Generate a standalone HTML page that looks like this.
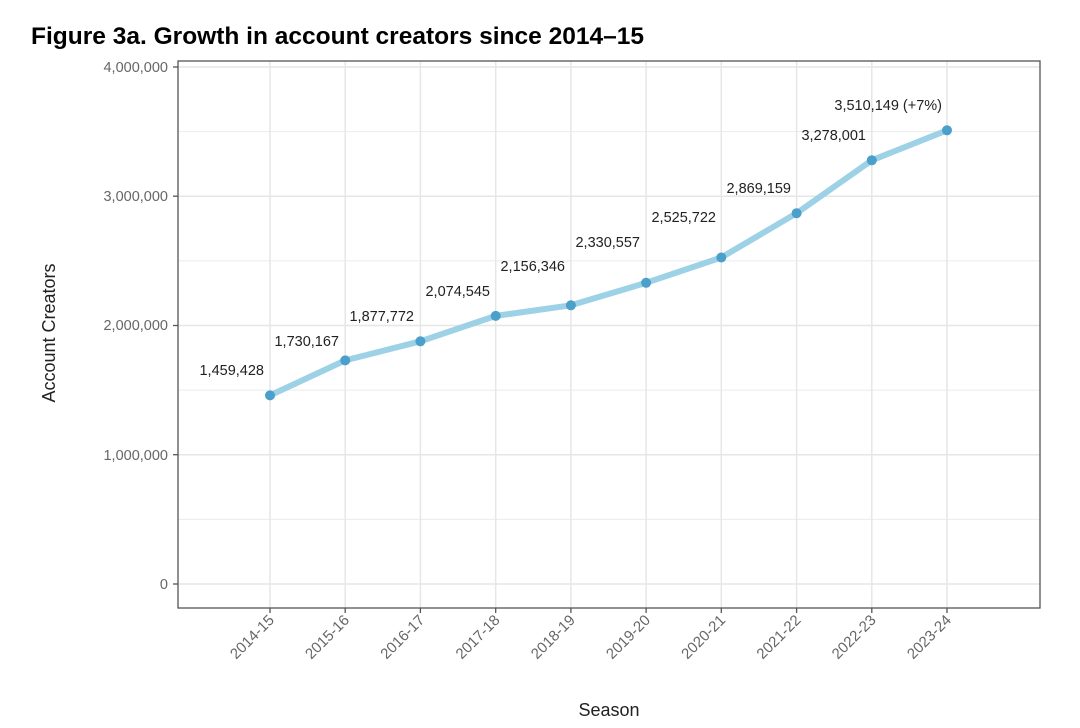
<!DOCTYPE html>
<html><head><meta charset="utf-8"><style>
body{margin:0;background:#fff;}
svg{display:block;}
</style></head><body>
<svg width="1080" height="728" xmlns="http://www.w3.org/2000/svg" font-family="Liberation Sans, sans-serif">
<text x="31" y="44" font-size="24" font-weight="bold" fill="#000" textLength="613" lengthAdjust="spacingAndGlyphs">Figure 3a. Growth in account creators since 2014–15</text>
<g stroke="#ebebeb" stroke-width="1">
<line x1="178" x2="1040" y1="131.6" y2="131.6"/><line x1="178" x2="1040" y1="260.9" y2="260.9"/>
<line x1="178" x2="1040" y1="390.1" y2="390.1"/><line x1="178" x2="1040" y1="519.4" y2="519.4"/>
</g>
<g stroke="#e6e6e6" stroke-width="1.5">
<line x1="178" x2="1040" y1="67" y2="67"/><line x1="178" x2="1040" y1="196.2" y2="196.2"/>
<line x1="178" x2="1040" y1="325.5" y2="325.5"/><line x1="178" x2="1040" y1="454.7" y2="454.7"/>
<line x1="178" x2="1040" y1="584" y2="584"/>
<line x1="270" x2="270" y1="61" y2="608"/><line x1="345.2" x2="345.2" y1="61" y2="608"/>
<line x1="420.4" x2="420.4" y1="61" y2="608"/><line x1="495.7" x2="495.7" y1="61" y2="608"/>
<line x1="570.9" x2="570.9" y1="61" y2="608"/><line x1="646.1" x2="646.1" y1="61" y2="608"/>
<line x1="721.3" x2="721.3" y1="61" y2="608"/><line x1="796.6" x2="796.6" y1="61" y2="608"/>
<line x1="871.8" x2="871.8" y1="61" y2="608"/><line x1="947" x2="947" y1="61" y2="608"/>
</g>
<rect x="178" y="61" width="862" height="547" fill="none" stroke="#555" stroke-width="1.3"/>
<g stroke="#555" stroke-width="1.3">
<line x1="173" x2="178" y1="67" y2="67"/><line x1="173" x2="178" y1="196.2" y2="196.2"/>
<line x1="173" x2="178" y1="325.5" y2="325.5"/><line x1="173" x2="178" y1="454.7" y2="454.7"/>
<line x1="173" x2="178" y1="584" y2="584"/>
</g>
<g font-size="14.5" fill="#666" text-anchor="end">
<text x="168" y="72">4,000,000</text><text x="168" y="201">3,000,000</text>
<text x="168" y="330">2,000,000</text><text x="168" y="460">1,000,000</text>
<text x="168" y="589">0</text>
</g>
<g font-size="15" fill="#666" text-anchor="end">
<g transform="translate(275,621) rotate(-45)"><text>2014-15</text></g>
<g transform="translate(350.2,621) rotate(-45)"><text>2015-16</text></g>
<g transform="translate(425.4,621) rotate(-45)"><text>2016-17</text></g>
<g transform="translate(500.7,621) rotate(-45)"><text>2017-18</text></g>
<g transform="translate(575.9,621) rotate(-45)"><text>2018-19</text></g>
<g transform="translate(651.1,621) rotate(-45)"><text>2019-20</text></g>
<g transform="translate(726.3,621) rotate(-45)"><text>2020-21</text></g>
<g transform="translate(801.6,621) rotate(-45)"><text>2021-22</text></g>
<g transform="translate(876.8,621) rotate(-45)"><text>2022-23</text></g>
<g transform="translate(952,621) rotate(-45)"><text>2023-24</text></g>
</g>
<g stroke="#555" stroke-width="1.3">
<line x1="270" x2="270" y1="608" y2="613"/><line x1="345.2" x2="345.2" y1="608" y2="613"/>
<line x1="420.4" x2="420.4" y1="608" y2="613"/><line x1="495.7" x2="495.7" y1="608" y2="613"/>
<line x1="570.9" x2="570.9" y1="608" y2="613"/><line x1="646.1" x2="646.1" y1="608" y2="613"/>
<line x1="721.3" x2="721.3" y1="608" y2="613"/><line x1="796.6" x2="796.6" y1="608" y2="613"/>
<line x1="871.8" x2="871.8" y1="608" y2="613"/><line x1="947" x2="947" y1="608" y2="613"/>
</g>
<text x="609" y="716" font-size="18" fill="#222" text-anchor="middle">Season</text>
<text transform="translate(55,333) rotate(-90)" font-size="18" fill="#222" text-anchor="middle">Account Creators</text>
<polyline fill="none" stroke="#9dd1e5" stroke-width="6" stroke-linejoin="round" stroke-linecap="round"
points="270,395.4 345.2,360.4 420.4,341.3 495.7,315.9 570.9,305.3 646.1,282.8 721.3,257.5 796.6,213.2 871.8,160.3 947,130.3"/>
<g fill="#4a9fcb">
<circle cx="270" cy="395.4" r="5"/><circle cx="345.2" cy="360.4" r="5"/><circle cx="420.4" cy="341.3" r="5"/>
<circle cx="495.7" cy="315.9" r="5"/><circle cx="570.9" cy="305.3" r="5"/><circle cx="646.1" cy="282.8" r="5"/>
<circle cx="721.3" cy="257.5" r="5"/><circle cx="796.6" cy="213.2" r="5"/><circle cx="871.8" cy="160.3" r="5"/>
<circle cx="947" cy="130.3" r="5"/>
</g>
<g font-size="14.5" fill="#222" text-anchor="end">
<text x="264" y="375">1,459,428</text><text x="339" y="346">1,730,167</text>
<text x="414" y="321">1,877,772</text><text x="490" y="296">2,074,545</text>
<text x="565" y="271">2,156,346</text><text x="640" y="247">2,330,557</text>
<text x="716" y="222">2,525,722</text><text x="791" y="193">2,869,159</text>
<text x="866" y="140">3,278,001</text><text x="942" y="110">3,510,149 (+7%)</text>
</g>
</svg>
</body></html>
